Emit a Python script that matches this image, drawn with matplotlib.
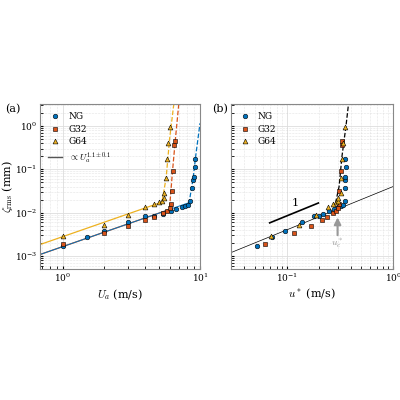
import matplotlib.pyplot as plt
import numpy as np

plt.rcParams["mathtext.fontset"] = "cm"
plt.rcParams["font.family"] = "serif"
plt.rcParams["font.serif"] = ["DejaVu Serif"]

BLUE, RED, YEL = "#0072BD", "#D95319", "#EDB120"

# panel (a): U_a (m/s) vs zeta_rms (mm)
ua_ng = [1.0, 1.5, 2.0, 3.0, 4.0, 4.6, 5.4, 6.1, 6.7, 7.4, 7.8, 8.2, 8.5, 8.7, 8.95, 9.05, 9.2, 9.25]
z_ng = [1.7e-3, 2.8e-3, 3.7e-3, 6.1e-3, 8.3e-3, 8.5e-3, 9.4e-3, 1.08e-2, 1.2e-2, 1.34e-2, 1.4e-2,
        1.5e-2, 1.9e-2, 3.7e-2, 5.7e-2, 6.6e-2, 0.11, 0.17]
ua_g32 = [1.0, 2.0, 3.0, 4.0, 4.6, 5.4, 5.7, 6.0, 6.1, 6.2, 6.3, 6.45, 6.55]
z_g32 = [1.9e-3, 3.4e-3, 5.0e-3, 6.9e-3, 8.0e-3, 9.8e-3, 1.1e-2, 1.3e-2, 1.6e-2, 3.2e-2, 8.9e-2, 0.37, 0.46]
ua_g64 = [1.0, 2.0, 3.0, 4.0, 4.6, 5.0, 5.3, 5.45, 5.5, 5.66, 5.76, 5.83, 6.0]
z_g64 = [2.9e-3, 5.3e-3, 8.9e-3, 1.34e-2, 1.6e-2, 1.8e-2, 1.9e-2, 2.2e-2, 2.8e-2, 6.3e-2, 0.17, 0.41, 0.93]

# power-law fits (exponent 1.1)
fit_a_low, fit_a_high = 1.65e-3, 2.8e-3
fit_u_ng = [0.68, 8.3]
fit_u_g32 = [0.68, 6.0]
fit_u_g64 = [0.68, 5.3]

# divergence branches (dashed)
dash_u_ng, dash_z_ng = [8.3, 8.9, 9.3, 10.0], [1.6e-2, 6e-2, 0.2, 1.15]
dash_u_g32, dash_z_g32 = [6.0, 6.3, 6.6, 7.0], [1.3e-2, 9e-2, 0.46, 3.2]
dash_u_g64, dash_z_g64 = [5.3, 5.66, 6.0, 6.44], [1.9e-2, 6.3e-2, 0.5, 3.2]

# panel (b): u* (m/s)
us_ng = [0.052, 0.072, 0.097, 0.139, 0.18, 0.2, 0.22, 0.25, 0.28, 0.3, 0.32, 0.34, 0.35, 0.35,
         0.352, 0.355, 0.357, 0.356]
us_g32 = [0.062, 0.116, 0.168, 0.215, 0.24, 0.27, 0.29, 0.30, 0.31, 0.31, 0.32, 0.33, 0.33]
us_g64 = [0.071, 0.13, 0.187, 0.245, 0.27, 0.29, 0.30, 0.305, 0.32, 0.325, 0.33, 0.335, 0.35]
lin_coef = 0.04
dash_us, dash_zb = [0.287, 0.31, 0.33, 0.36, 0.38], [1.66e-2, 4e-2, 0.2, 1.0, 3.2]
seg_us, seg_z0 = [0.069, 0.198], 5.8e-3
uc_star = 0.3

fig = plt.figure(figsize=(4, 4), dpi=100)
ax1 = fig.add_axes([0.1, 0.3275, 0.4, 0.4125])
ax2 = fig.add_axes([0.578, 0.3275, 0.405, 0.4125])

mk = dict(markeredgecolor="k", markeredgewidth=0.4, linestyle="none")
for ax in (ax1, ax2):
    ax.set_xscale("log")
    ax.set_yscale("log")
    ax.set_ylim(5e-4, 3.2)
    ax.grid(True, which="major", color="#dddddd", lw=0.6)
    ax.grid(True, which="minor", color="#cccccc", lw=0.4, linestyle=":")
    ax.tick_params(labelsize=6.5, which="both", direction="in", length=2, pad=2)
    for s in ax.spines.values():
        s.set_color("#888888")

# (a)
u = np.geomspace(*fit_u_g32, 50)
ax1.plot(u, fit_a_low * u ** 1.1, color=RED, lw=0.9)
u = np.geomspace(*fit_u_ng, 50)
ax1.plot(u, fit_a_low * u ** 1.1, color=BLUE, lw=0.7)
u = np.geomspace(*fit_u_g64, 50)
ax1.plot(u, fit_a_high * u ** 1.1, color=YEL, lw=0.9)
ax1.plot(dash_u_ng, dash_z_ng, "--", color=BLUE, lw=0.9)
ax1.plot(dash_u_g32, dash_z_g32, "--", color=RED, lw=0.9)
ax1.plot(dash_u_g64, dash_z_g64, "--", color=YEL, lw=0.9)
ax1.plot(ua_ng, z_ng, "o", color=BLUE, ms=3.3, label="NG", **mk)
ax1.plot(ua_g32, z_g32, "s", color=RED, ms=3.3, label="G32", **mk)
ax1.plot(ua_g64, z_g64, "^", color=YEL, ms=3.5, label="G64", **mk)
ax1.plot([], [], color="#555555", lw=1, label=r"$\propto U_a^{1.1\pm0.1}$")
ax1.set_xlim(0.68, 10)
ax1.set_xlabel(r"$U_a$ (m/s)", fontsize=8, labelpad=2)
ax1.set_ylabel(r"$\zeta_{\rm rms}$ (mm)", fontsize=8, labelpad=0)
ax1.legend(loc="upper left", fontsize=6.5, frameon=False, handlelength=1.5,
           borderaxespad=0.5, labelspacing=0.4)
ax1.text(-0.22, 1.0, "(a)", transform=ax1.transAxes, fontsize=8, va="top")

# (b)
u = np.geomspace(0.03, 1.0, 50)
ax2.plot(u, lin_coef * u, color="k", lw=0.5)
ax2.plot(dash_us, dash_zb, "--", color="k", lw=0.9)
ax2.plot(seg_us, [seg_z0, seg_z0 * seg_us[1] / seg_us[0]], color="k", lw=1.2)
ax2.text(0.112, 1.45e-2, "1", fontsize=8)
ax2.plot(us_ng, z_ng, "o", color=BLUE, ms=3.3, label="NG", **mk)
ax2.plot(us_g32, z_g32, "s", color=RED, ms=3.3, label="G32", **mk)
ax2.plot(us_g64, z_g64, "^", color=YEL, ms=3.5, label="G64", **mk)
ax2.annotate("", xy=(uc_star, 9e-3), xytext=(uc_star, 2.6e-3),
             arrowprops=dict(arrowstyle="-|>", color="#999999", lw=1.5))
ax2.text(uc_star, 1.7e-3, r"$u_c^*$", color="#999999", fontsize=7, ha="center")
ax2.set_xlim(0.03, 1.0)
ax2.set_yticklabels([])
ax2.set_xlabel(r"$u^*$ (m/s)", fontsize=8, labelpad=2)
ax2.legend(loc="upper left", fontsize=6.5, frameon=False, handlelength=1.2,
           borderaxespad=0.5, labelspacing=0.4)
ax2.text(-0.12, 1.0, "(b)", transform=ax2.transAxes, fontsize=8, va="top")

fig.savefig("out.png", dpi=100)
